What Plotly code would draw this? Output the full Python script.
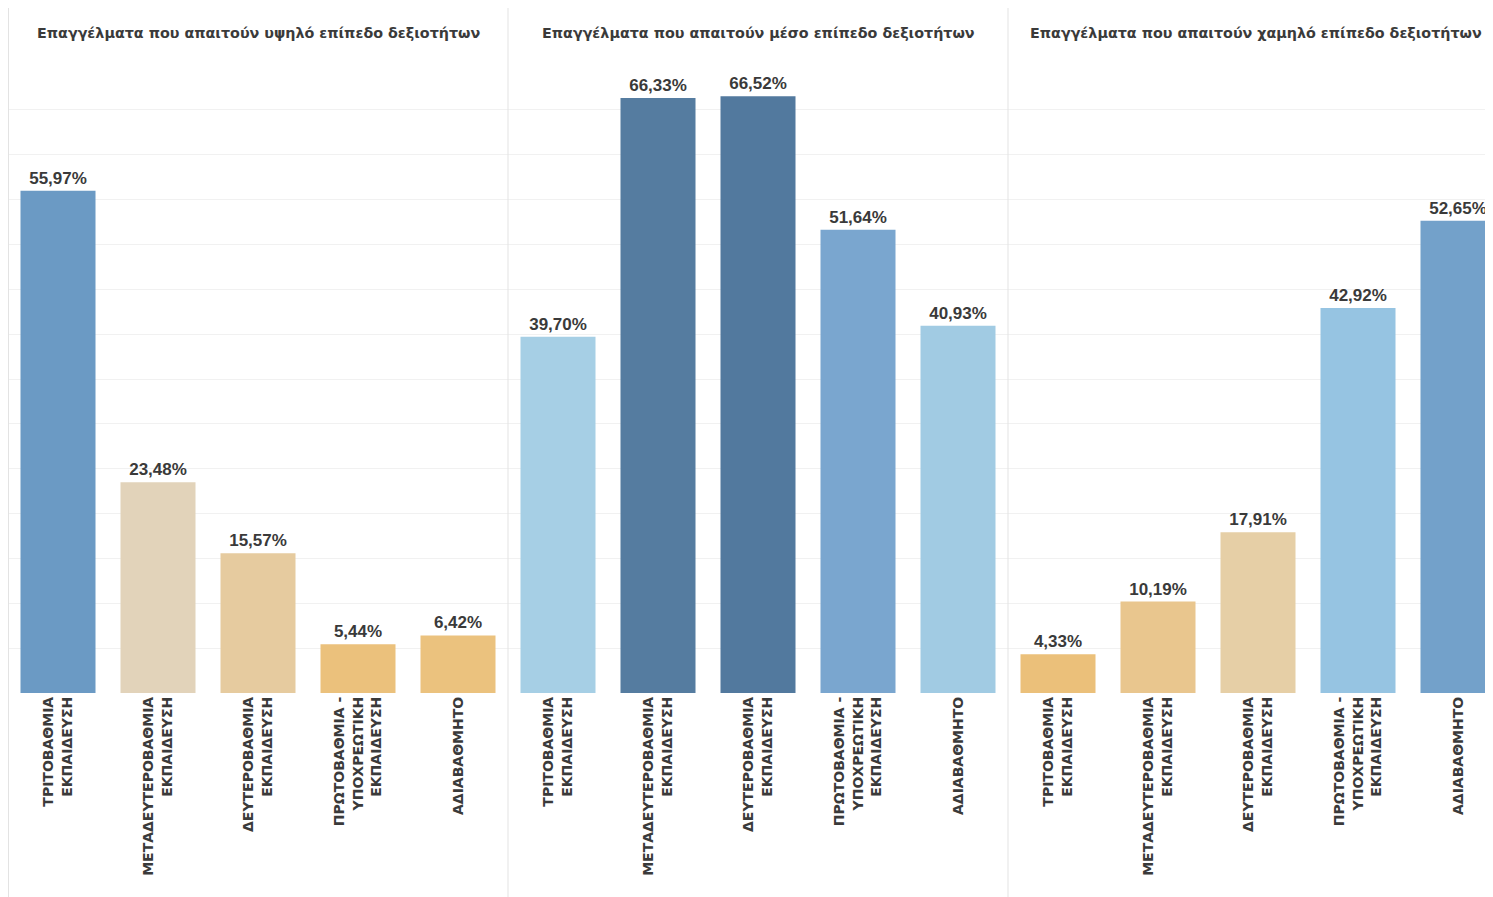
import plotly.graph_objects as go

categories = [
    "ΤΡΙΤΟΒΑΘΜΙΑ<br>ΕΚΠΑΙΔΕΥΣΗ",
    "ΜΕΤΑΔΕΥΤΕΡΟΒΑΘΜΙΑ<br>ΕΚΠΑΙΔΕΥΣΗ",
    "ΔΕΥΤΕΡΟΒΑΘΜΙΑ<br>ΕΚΠΑΙΔΕΥΣΗ",
    "ΠΡΩΤΟΒΑΘΜΙΑ -<br>ΥΠΟΧΡΕΩΤΙΚΗ<br>ΕΚΠΑΙΔΕΥΣΗ",
    "ΑΔΙΑΒΑΘΜΗΤΟ",
]

panel_titles = [
    "Επαγγέλματα που απαιτούν υψηλό επίπεδο δεξιοτήτων",
    "Επαγγέλματα που απαιτούν μέσο επίπεδο δεξιοτήτων",
    "Επαγγέλματα που απαιτούν χαμηλό επίπεδο δεξιοτήτων",
]

high_skill = [55.97, 23.48, 15.57, 5.44, 6.42]
mid_skill = [39.70, 66.33, 66.52, 51.64, 40.93]
low_skill = [4.33, 10.19, 17.91, 42.92, 52.65]

high_colors = ["#6b9ac4", "#e2d3ba", "#e6cb9f", "#ebc17c", "#ebc27e"]
mid_colors = ["#a6cfe5", "#557ca0", "#52799e", "#7aa6cf", "#a1cbe3"]
low_colors = ["#ebc07a", "#e9c68e", "#e6cfa6", "#96c4e2", "#73a1ca"]

series = [high_skill, mid_skill, low_skill]
colors = [high_colors, mid_colors, low_colors]

# page body adds an 8px offset; figure sized to fill the rest of the window
W, H = 1485, 889
panel_px = [(0, 500), (500, 1000), (1000, 1485)]
y_bottom_px, y_top_px = 685, 57

fig = go.Figure()

def fmt(v):
    return "<b>" + f"{v:.2f}".replace(".", ",") + "%</b>"

for i, (vals, cols) in enumerate(zip(series, colors)):
    ax = "" if i == 0 else str(i + 1)
    fig.add_trace(go.Bar(
        x=categories, y=vals,
        marker=dict(color=cols, line=dict(width=0)),
        text=[fmt(v) for v in vals],
        textposition="outside",
        textfont=dict(family="Liberation Sans, Arial, sans-serif", size=17, color="#3a3a3a"),
        cliponaxis=False,
        xaxis="x" + ax, yaxis="y" + ax,
        showlegend=False,
        hoverinfo="x+y",
    ))

layout = dict(
    width=W, height=H,
    margin=dict(l=0, r=0, t=0, b=0),
    paper_bgcolor="white", plot_bgcolor="white",
    bargap=0.25,
    font=dict(family="Liberation Sans, Arial, sans-serif", color="#333"),
)

ydom = [(H - y_bottom_px) / H, (H - y_top_px) / H]
for i, (x0, x1) in enumerate(panel_px):
    ax = "" if i == 0 else str(i + 1)
    xr = [-0.5, 4.5] if i < 2 else [-0.5, -0.5 + (x1 - x0) / 100.0]
    layout["xaxis" + ax] = dict(
        domain=[x0 / W, x1 / W], anchor="y" + ax, range=xr,
        tickangle=-90, showgrid=False, showline=False, zeroline=False,
        ticks="", ticklen=0,
        tickfont=dict(family="DejaVu Sans, sans-serif", size=14, color="#3a3a3a", weight="bold"),
        fixedrange=True,
    )
    layout["yaxis" + ax] = dict(
        domain=ydom, anchor="x" + ax, range=[0, 70], dtick=5,
        showgrid=True, gridcolor="#f1f1f1", gridwidth=1,
        zeroline=False, showticklabels=False, showline=False, ticks="",
        fixedrange=True,
    )

fig.update_layout(**layout)

# panel titles
for i, (x0, x1) in enumerate(panel_px):
    fig.add_annotation(
        x=((x0 + x1) / 2) / W if i < 2 else (x0 + 248) / W, y=(H - 25) / H,
        xref="paper", yref="paper", text="<b>" + panel_titles[i] + "</b>",
        showarrow=False, xanchor="center", yanchor="middle",
        font=dict(family="DejaVu Sans, sans-serif", size=14.3, color="#3a3a3a"),
    )

# panel separators
for xp in [0.5, 500, 1000]:
    fig.add_shape(type="line", xref="paper", yref="paper",
                  x0=xp / W, x1=xp / W, y0=0, y1=1,
                  line=dict(color="#e3e3e3", width=1))

fig.write_html("out.html")
